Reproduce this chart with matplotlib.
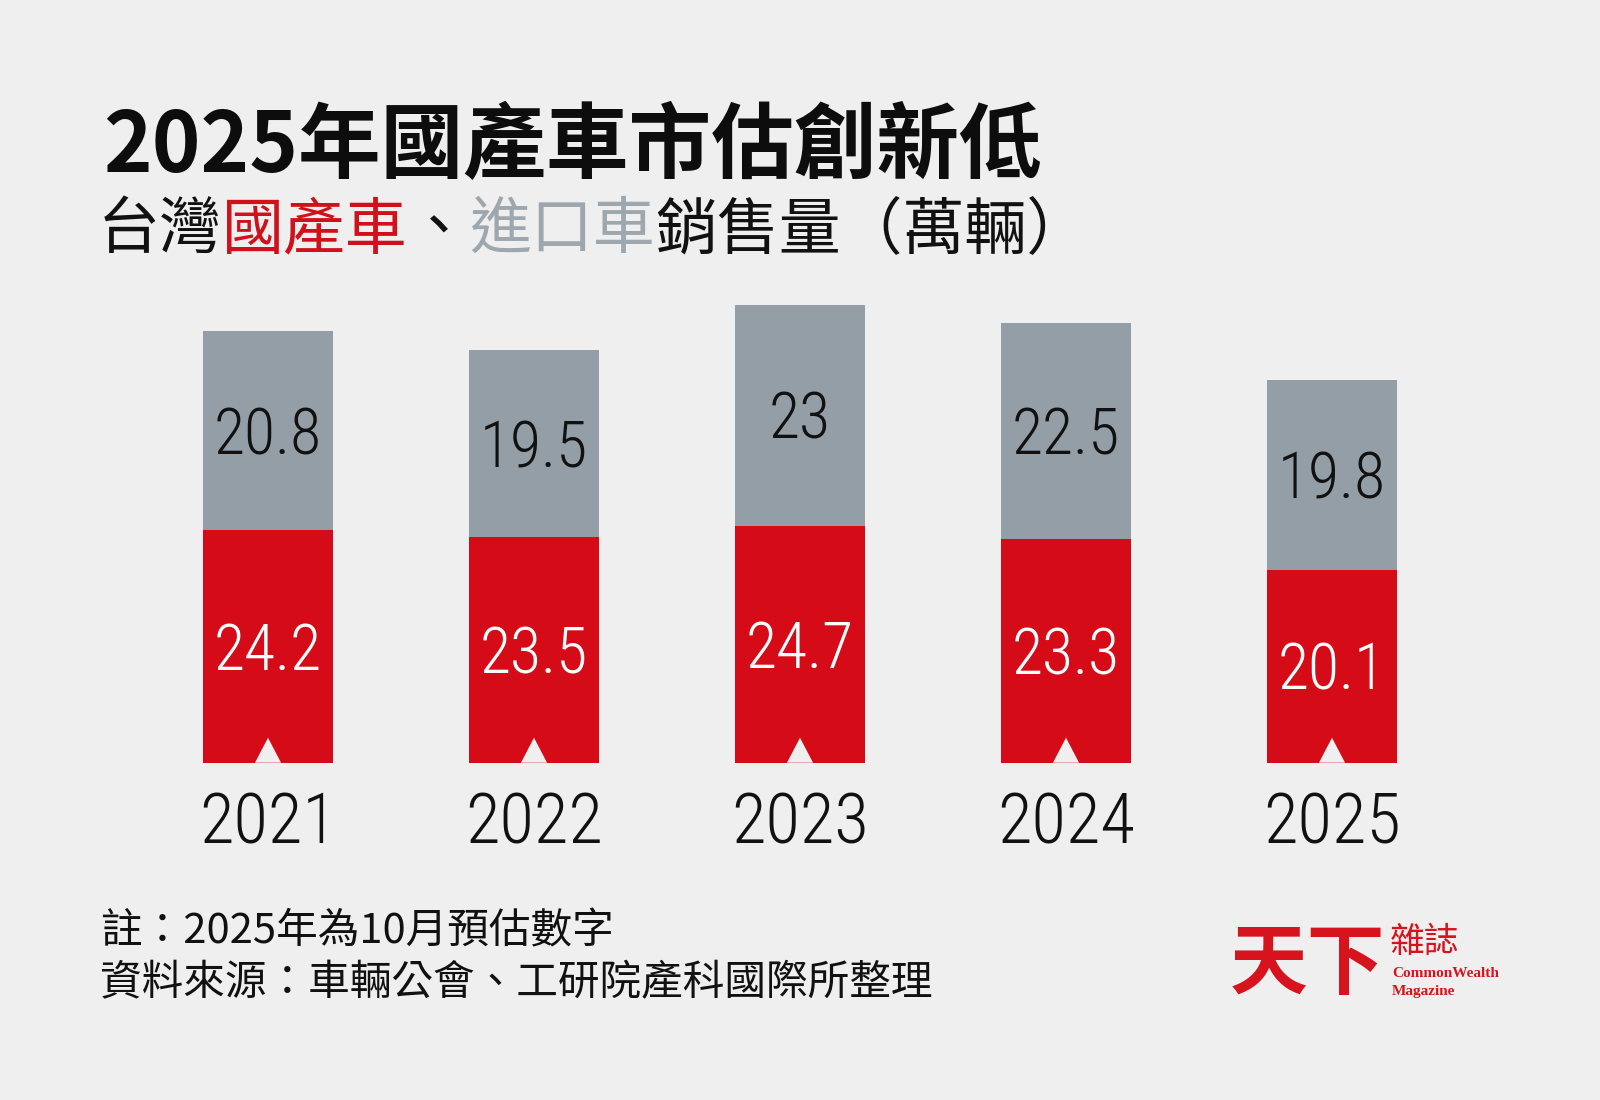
import matplotlib
matplotlib.use("Agg")
import matplotlib.pyplot as plt
from matplotlib import font_manager

# data (萬輛)
years = ["2021", "2022", "2023", "2024", "2025"]
domestic = [24.2, 23.5, 24.7, 23.3, 20.1]
imported = [20.8, 19.5, 23, 22.5, 19.8]

BG = "#efefef"
RED = "#d50c18"
GRAY = "#949ea6"
CJK = ["Noto Sans CJK TC", "DejaVu Sans"]

# pick a narrow, light face for the numbers if one is installed
num_font = None
for key in ["RobotoCondensedLight", "RobotoCondensedRegular", "RobotoCondensed",
            "LiberationSansNarrow", "DejaVuSansCondensed.ttf"]:
    for f in font_manager.fontManager.ttflist:
        fn = f.fname.replace("-", "").replace("_", "")
        bad = ["Bold", "Italic", "Oblique", "Thin", "Black", "Medium"]
        if key in fn and not any(k in fn for k in bad):
            num_font = f.fname
            break
    if num_font:
        break

def numprops(size):
    if num_font:
        return font_manager.FontProperties(fname=num_font, size=size)
    return font_manager.FontProperties(family=CJK, size=size * 0.86)

W, H = 1600, 1100
fig = plt.figure(figsize=(16, 11), dpi=100, facecolor=BG)

def fx(px):
    return px / W

def fy(py):
    return 1 - py / H

# bars: bottom at y=762.7px, 9.6 px per unit, centres 268 + 266*i
ax = fig.add_axes([0, (H - 762.7) / H, 1, 480 / H])
ax.set_facecolor(BG)
ax.set_xlim(-268 / 266, (W - 268) / 266)
ax.set_ylim(0, 50)
ax.axis("off")

x = list(range(len(years)))
ax.bar(x, domestic, width=0.485, color=RED, linewidth=0)
ax.bar(x, imported, bottom=domestic, width=0.485, color=GRAY, linewidth=0)

for i in x:
    # small notch at the bottom of each bar
    ax.fill([i - 0.049, i, i + 0.049], [0, 2.6, 0], color=BG, linewidth=0)
    ax.text(i, domestic[i] / 2 - 2.45, f"{domestic[i]:g}", ha="center", va="baseline",
            color="white", fontproperties=numprops(46))
    ax.text(i, domestic[i] + imported[i] / 2 - 2.45, f"{imported[i]:g}", ha="center",
            va="baseline", color="#111111", fontproperties=numprops(46))
    ax.text(i, -8.4, years[i], ha="center", va="baseline", color="#111111",
            fontproperties=numprops(51), clip_on=False)

# title
fig.text(fx(103), fy(172), "2025年國產車市估創新低", fontsize=59.5, family=CJK,
         fontweight="bold", color="#0d0d0d", ha="left", va="baseline")

# subtitle: every glyph is full width, so each one advances by one em
sub_size = 44.6
em = sub_size * 100 / 72
xpos = 98
for s, c in [("台灣", "#111111"), ("國產車", "#d0111b"), ("、", "#111111"),
             ("進口車", "#9ea7ae"), ("銷售量（萬輛）", "#111111")]:
    fig.text(fx(xpos), fy(248), s, color=c, fontsize=sub_size, family=CJK,
             fontweight="light", ha="left", va="baseline")
    xpos += em * len(s)

# notes
fig.text(fx(100), fy(943), "註：2025年為10月預估數字", fontsize=30,
         family=CJK, color="#111111", ha="left", va="baseline")
fig.text(fx(100), fy(995), "資料來源：車輛公會、工研院產科國際所整理", fontsize=30,
         family=CJK, color="#111111", ha="left", va="baseline")

# logo
LOGO = "#d7141d"
fig.text(fx(1230), fy(988), "天下", fontsize=56, family=CJK, fontweight="heavy",
         color=LOGO, ha="left", va="baseline")
fig.text(fx(1390), fy(952), "雜誌", fontsize=25, family=CJK, color=LOGO,
         ha="left", va="baseline")
fig.text(fx(1392), fy(977), "CommonWealth", fontsize=11, family="Liberation Serif",
         fontweight="bold", color=LOGO, ha="left", va="baseline")
fig.text(fx(1392), fy(995), "Magazine", fontsize=11, family="Liberation Serif",
         fontweight="bold", color=LOGO, ha="left", va="baseline")

fig.savefig("out.png", dpi=100, facecolor=BG)
